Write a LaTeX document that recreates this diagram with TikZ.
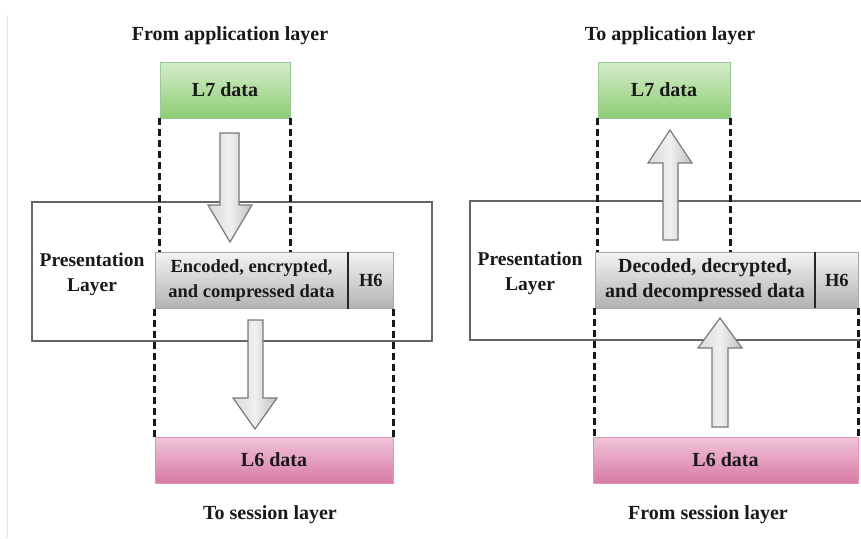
\documentclass[tikz,border=0pt]{standalone}
\usepackage{fontspec}
\setmainfont{Liberation Serif}
\usetikzlibrary{positioning}
\definecolor{greentop}{HTML}{D6EDCB}
\definecolor{greenbot}{HTML}{8DCC74}
\definecolor{pinktop}{HTML}{F0C4D9}
\definecolor{pinkbot}{HTML}{D87AA5}
\definecolor{greytop}{HTML}{F3F3F3}
\definecolor{greybot}{HTML}{B2B2B2}
\definecolor{frame}{HTML}{666666}
\begin{document}
\begin{tikzpicture}[
    x=1pt, y=-1pt,
    title/.style={font=\fontsize{20}{24}\selectfont\bfseries, text=black!90},
    databox/.style={rectangle, inner sep=0pt, font=\fontsize{20}{24}\selectfont\bfseries, text=black!90},
    upper/.style={databox, draw=green!30!gray!60, top color=greentop, bottom color=greenbot, minimum height=56pt},
    lower/.style={databox, draw=pinkbot!80, top color=pinktop, bottom color=pinkbot, minimum height=46pt},
    payload/.style={databox, draw=gray!70, top color=greytop, bottom color=greybot, minimum height=56pt, align=center, font=\fontsize{18.5}{25}\selectfont\bfseries},
    layer/.style={rectangle, draw=frame, line width=1.5pt, inner sep=0pt, minimum height=139pt},
    label/.style={align=center, font=\fontsize{19.5}{25}\selectfont\bfseries, text=black!90},
    guide/.style={line width=2.7pt, dash pattern=on 7pt off 4pt, black!90},
    blockarrow/.style={draw=gray!95!black, line width=1.2pt, left color=gray!30, right color=gray!50, middle color=gray!12, line join=miter}
]
    \clip (0,0) rectangle (861,538);
    \fill[white] (0,0) rectangle (861,538);
    \draw[gray!20, line width=1pt] (7,15) -- (7,538);

    % Left side: from application layer down to session layer
    \node [layer, minimum width=400pt] (layerL) at (232,271.5) {};
    \node [title] (topL) at (230,36) {From application layer};
    \node [upper, minimum width=130pt] (l7L) at (225,90) {L7 data};
    \node [label] (nameL) at (92,274) {Presentation\\Layer};
    \node [payload, minimum width=193pt] (dataL) at (251.5,280.5) {Encoded, encrypted,\\and compressed data};
    \node [payload, minimum width=45pt, right=0pt of dataL] (h6L) {H6};
    \node [lower, minimum width=238pt] (l6L) at (274,460) {L6 data};
    \node [title] (botL) at (270,515) {To session layer};

    % Right side: from session layer up to application layer
    \node [layer, minimum width=405pt] (layerR) at (672.5,270.5) {};
    \node [title] (topR) at (670,36) {To application layer};
    \node [upper, minimum width=132pt] (l7R) at (664,90) {L7 data};
    \node [label] (nameR) at (530,273) {Presentation\\Layer};
    \node [payload, minimum width=220pt, font=\fontsize{20}{25}\selectfont\bfseries] (dataR) at (705,280) {Decoded, decrypted,\\and decompressed data};
    \node [payload, minimum width=43pt, right=0pt of dataR] (h6R) {H6};
    \node [lower, minimum width=265pt] (l6R) at (725.5,460) {L6 data};
    \node [title] (botR) at (708,515) {From session layer};

    % Divider between payload and header
    \foreach \s in {L,R}
        \draw [line width=2pt, black!85] (h6\s.north west) -- (h6\s.south west);

    % Dashed guides
    \foreach \s in {L,R} {
        \draw [guide] (l7\s.south west) -- (l7\s.south west |- data\s.north);
        \draw [guide] (l7\s.south east) -- (l7\s.south east |- data\s.north);
        \draw [guide] (data\s.south west) -- (data\s.south west |- l6\s.north);
        \draw [guide] (h6\s.south east) -- (h6\s.south east |- l6\s.north);
    }

    % Block arrows
    \draw [blockarrow] (220,133) -- (239,133) -- (239,205) -- (252,205) -- (230,242) -- (208,205) -- (220,205) -- cycle;
    \draw [blockarrow] (248,320) -- (263,320) -- (263,398) -- (277,398) -- (255,429) -- (233,398) -- (248,398) -- cycle;
    \draw [blockarrow] (663,240) -- (678,240) -- (678,163) -- (692,163) -- (670,130) -- (648,163) -- (663,163) -- cycle;
    \draw [blockarrow] (712,427) -- (728,427) -- (728,348) -- (742,348) -- (720,318) -- (698,348) -- (712,348) -- cycle;
\end{tikzpicture}
\end{document}
